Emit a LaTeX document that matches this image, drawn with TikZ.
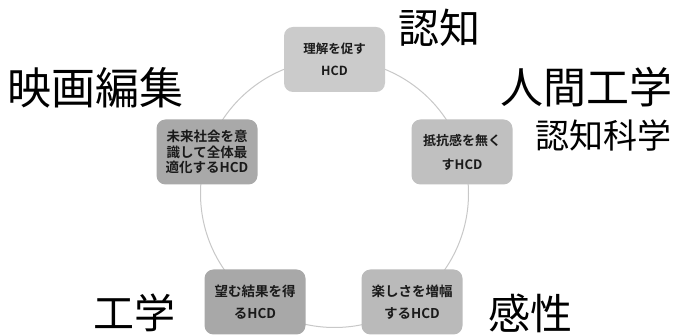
\documentclass[tikz,border=0pt]{standalone}
\usepackage{fontspec}
\newfontfamily\cjk{Noto Sans CJK JP}
\newfontfamily\cjkb{Noto Sans CJK JP Bold}
\definecolor{ringc}{HTML}{C8C8C8}
\definecolor{ctop}{HTML}{CBCBCB}
\definecolor{cright}{HTML}{C0C0C0}
\definecolor{cleft}{HTML}{A9A9A9}
\definecolor{cbl}{HTML}{A8A8A8}
\definecolor{cbr}{HTML}{BABABA}
\definecolor{txt}{HTML}{1A1A1A}
\tikzset{
  hcdbox/.style={rounded corners=9pt, minimum width=101pt, minimum height=65pt,
    inner sep=0pt, align=center, text=txt, font=\cjkb\fontsize{12.5}{22}\selectfont},
  hcdtight/.style={hcdbox, font=\cjkb\fontsize{13.5}{15.5}\selectfont},
  biglabel/.style={text=black, inner sep=0pt, font=\cjk\fontsize{41}{45}\selectfont},
}
\begin{document}
\begin{tikzpicture}[x=1pt,y=-1pt]
\useasboundingbox[fill=white] (0,0) rectangle (673,336);
\coordinate (c) at (334.5,193.5);
\draw[ringc, line width=1pt] (c) circle[radius=134pt];
\node[hcdbox, fill=ctop] (top) at (334.5,59.5) {理解を促す\\HCD};
\node[hcdbox, fill=cright, font=\cjkb\fontsize{13}{24}\selectfont] (right) at (462,152) {抵抗感を無く\\すHCD};
\node[hcdtight, fill=cleft] (left) at (207,152) {未来社会を意\\識して全体最\\適化するHCD};
\node[hcdbox, fill=cbl, font=\cjkb\fontsize{13.5}{22}\selectfont] (bl) at (255,302) {望む結果を得\\るHCD};
\node[hcdbox, fill=cbr, font=\cjkb\fontsize{13.5}{22}\selectfont] (br) at (412,302) {楽しさを増幅\\するHCD};
\node[biglabel] (l1) at (439,28) {認知};
\node[biglabel, font=\cjk\fontsize{43}{45}\selectfont] (l2) at (586,87) {人間工学};
\node[biglabel, font=\cjk\fontsize{34}{38}\selectfont] (l3) at (603,136) {認知科学};
\node[biglabel, font=\cjk\fontsize{44}{46}\selectfont] (l4) at (96,88) {映画編集};
\node[biglabel] (l5) at (134,313) {工学};
\node[biglabel, font=\cjk\fontsize{42}{46}\selectfont] (l6) at (530,313) {感性};
\end{tikzpicture}
\end{document}
